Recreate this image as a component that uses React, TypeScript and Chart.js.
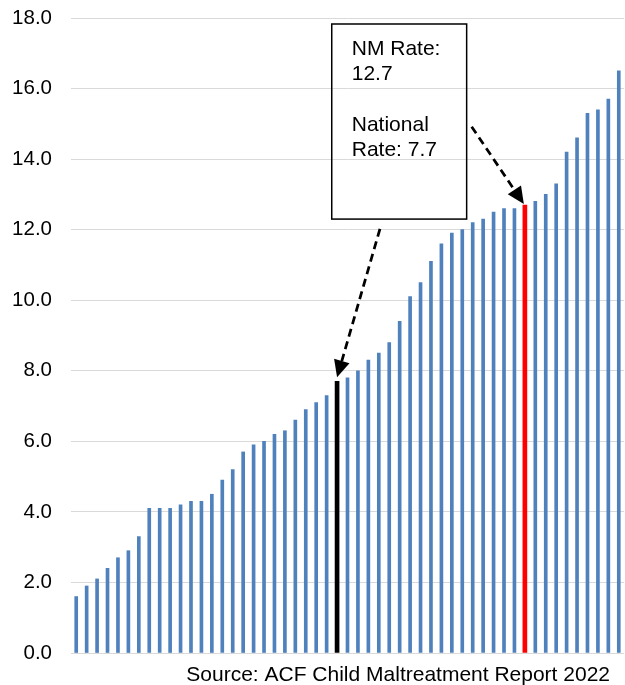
import React, { useEffect, useRef } from 'react';
import { Chart, registerables } from 'chart.js';

Chart.register(...registerables);

// ---- Data ----
const categories = [
  '1', '2', '3', '4', '5', '6', '7', '8', '9', '10',
  '11', '12', '13', '14', '15', '16', '17', '18', '19', '20',
  '21', '22', '23', '24', '25', 'National', '27', '28', '29', '30',
  '31', '32', '33', '34', '35', '36', '37', '38', '39', '40',
  '41', '42', '43', 'NM', '45', '46', '47', '48', '49', '50',
  '51', '52', '53',
];

const rates = [
  1.6, 1.9, 2.1, 2.4, 2.7, 2.9, 3.3, 4.1, 4.1, 4.1,
  4.2, 4.3, 4.3, 4.5, 4.9, 5.2, 5.7, 5.9, 6.0, 6.2,
  6.3, 6.6, 6.9, 7.1, 7.3, 7.7, 7.8, 8.0, 8.3, 8.5,
  8.8, 9.4, 10.1, 10.5, 11.1, 11.6, 11.9, 12.0, 12.2, 12.3,
  12.5, 12.6, 12.6, 12.7, 12.8, 13.0, 13.3, 14.2, 14.6, 15.3,
  15.4, 15.7, 16.5,
];

const nationalIndex = 25;
const nmIndex = 43;

const yMin = 0;
const yMax = 18;
const yStep = 2;

const noteLines = ['NM Rate:', '12.7', '', 'National', 'Rate: 7.7'];
const sourceText = 'Source: ACF Child Maltreatment Report 2022';

const BLUE = '#4F81BD';
const FONT = '"Liberation Sans", Arial, Helvetica, sans-serif';

function drawArrow(ctx: CanvasRenderingContext2D, x1: number, y1: number, x2: number, y2: number) {
  const ang = Math.atan2(y2 - y1, x2 - x1);
  const head = 17;
  const half = 8;
  const bx = x2 - head * Math.cos(ang);
  const by = y2 - head * Math.sin(ang);
  ctx.strokeStyle = '#000';
  ctx.fillStyle = '#000';
  ctx.lineWidth = 2.75;
  ctx.setLineDash([8, 5]);
  ctx.beginPath();
  ctx.moveTo(x1, y1);
  ctx.lineTo(bx, by);
  ctx.stroke();
  ctx.setLineDash([]);
  ctx.beginPath();
  ctx.moveTo(x2, y2);
  ctx.lineTo(bx + half * Math.sin(ang), by - half * Math.cos(ang));
  ctx.lineTo(bx - half * Math.sin(ang), by + half * Math.cos(ang));
  ctx.closePath();
  ctx.fill();
}

const annotationPlugin = {
  id: 'rateAnnotation',
  afterDatasetsDraw(chart: any) {
    const { ctx } = chart;
    const x = chart.scales.x;
    const y = chart.scales.y;
    ctx.save();

    // note box (in data units)
    const bx1 = x.getPixelForValue(24.49);
    const bx2 = x.getPixelForValue(37.42);
    const by1 = y.getPixelForValue(17.83);
    const by2 = y.getPixelForValue(12.3);
    ctx.strokeStyle = '#000';
    ctx.lineWidth = 1.5;
    ctx.strokeRect(bx1, by1, bx2 - bx1, by2 - by1);

    ctx.fillStyle = '#000';
    ctx.font = `21px ${FONT}`;
    ctx.textAlign = 'left';
    ctx.textBaseline = 'alphabetic';
    noteLines.forEach((t, k) => {
      if (t) ctx.fillText(t, bx1 + 20, by1 + 31 + k * 25.3);
    });

    // arrows to highlighted bars
    const meta = chart.getDatasetMeta(1);
    const nat = meta.data[nationalIndex];
    const nm = meta.data[nmIndex];
    drawArrow(ctx, x.getPixelForValue(29.11), y.getPixelForValue(12.02), nat.x, nat.y - 4);
    drawArrow(ctx, x.getPixelForValue(37.9), y.getPixelForValue(14.92), nm.x - 1, nm.y - 1);

    // source
    ctx.fillStyle = '#000';
    ctx.font = `21px ${FONT}`;
    ctx.textAlign = 'right';
    ctx.fillText(sourceText, chart.width - 15, chart.height - 4);

    ctx.restore();
  },
};

export default function App() {
  const canvasRef = useRef<HTMLCanvasElement | null>(null);

  useEffect(() => {
    document.body.style.margin = '0';
    const canvas = canvasRef.current;
    if (!canvas) return;

    const isHighlight = (i: number) => i === nationalIndex || i === nmIndex;
    const baseData = rates.map((v, i) => (isHighlight(i) ? null : v));
    const highlightData = rates.map((v, i) => (isHighlight(i) ? v : null));
    const highlightColors = rates.map((_, i) => (i === nmIndex ? '#FF0000' : '#000000'));

    const chart = new Chart(canvas, {
      type: 'bar',
      data: {
        labels: categories,
        datasets: [
          {
            label: 'Rate',
            data: baseData,
            backgroundColor: BLUE,
            barThickness: 3,
            grouped: false,
          },
          {
            label: 'Highlighted',
            data: highlightData,
            backgroundColor: highlightColors,
            barThickness: 4,
            grouped: false,
          },
        ],
      },
      options: {
        animation: false,
        responsive: true,
        maintainAspectRatio: false,
        layout: { padding: { top: 18, right: 1, bottom: 32, left: 0 } },
        plugins: {
          legend: { display: false },
          tooltip: { enabled: false },
          title: { display: false },
        },
        scales: {
          x: {
            display: false,
          },
          y: {
            min: yMin,
            max: yMax,
            ticks: {
              stepSize: yStep,
              callback: (v: any) => Number(v).toFixed(1),
              padding: 19,
              color: '#000',
              font: { size: 20.5, family: FONT },
            },
            grid: { color: '#d9d9d9', lineWidth: 1, drawTicks: false },
            border: { display: false },
            afterFit: (s: any) => {
              s.width = 71;
              s.paddingTop = 0;
              s.paddingBottom = 0;
            },
          },
        },
      } as any,
      plugins: [annotationPlugin],
    });

    return () => chart.destroy();
  }, []);

  return (
    <div style={{ width: '625px', height: '685px', position: 'relative' }}>
      <canvas ref={canvasRef} />
    </div>
  );
}
